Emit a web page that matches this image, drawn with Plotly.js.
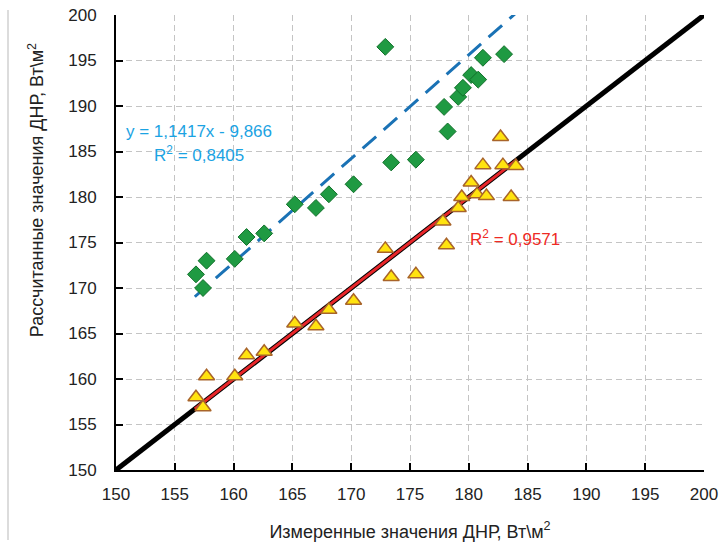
<!DOCTYPE html>
<html>
<head>
<meta charset="utf-8">
<script src="https://cdn.plot.ly/plotly-3.0.1.min.js"></script>
<style>html,body{margin:0;padding:0;background:#fff;}#chart{width:719px;height:547px;}</style>
</head>
<body>
<div id="chart"></div>
<script>
// Green diamonds (calculated, series 1)
const greenX = [156.8, 157.4, 157.7, 160.1, 161.1, 162.6, 165.2, 167.0, 168.1, 170.2, 172.9, 173.4, 175.5, 177.9, 178.2, 179.1, 179.5, 180.2, 180.8, 181.2, 183.0];
const greenY = [171.5, 170.0, 173.0, 173.2, 175.6, 176.0, 179.2, 178.8, 180.3, 181.4, 196.5, 183.8, 184.1, 189.9, 187.2, 191.0, 192.0, 193.4, 192.9, 195.3, 195.7];
// Yellow triangles (calculated, series 2)
const yellowX = [156.8, 157.4, 157.7, 160.1, 161.1, 162.6, 165.2, 167.0, 168.1, 170.2, 172.9, 173.4, 175.5, 177.8, 178.1, 179.1, 179.4, 180.2, 180.7, 181.2, 181.5, 182.7, 182.9, 183.6, 184.0];
const yellowY = [158.0, 156.9, 160.3, 160.3, 162.6, 163.0, 166.1, 165.8, 167.6, 168.6, 174.3, 171.2, 171.5, 177.3, 174.7, 178.8, 180.0, 181.6, 180.3, 183.5, 180.1, 186.6, 183.5, 180.0, 183.4];
// 1:1 reference line
const refX = [150, 200];
const refY = [150, 200];
// Trend line coefficients (blue from the equation, red) and extent
const blueSlope = 1.1417, blueIntercept = -9.866;
const redSlope = 1.0, redIntercept = 0.0;
const fitX = [156.7, 184.1];
const ticks = [150, 155, 160, 165, 170, 175, 180, 185, 190, 195, 200];

const redY = fitX.map(v => redSlope * v + redIntercept);
const blueY = fitX.map(v => blueSlope * v + blueIntercept);

const FONT = 'Liberation Sans, Arial, sans-serif';

const traces = [
  {x: refX, y: refY, mode: 'lines', line: {color: '#000000', width: 5}, hoverinfo: 'skip'},
  {x: fitX, y: redY, mode: 'lines', line: {color: '#e8262a', width: 3}, hoverinfo: 'skip'},
  {x: fitX, y: blueY, mode: 'lines', line: {color: '#1a72b5', width: 3, dash: '18px,10px'}, hoverinfo: 'skip'},
  {x: greenX, y: greenY, mode: 'markers', marker: {symbol: 'diamond', size: 13, color: '#1f9a42', line: {color: '#11702a', width: 1}}},
  {x: yellowX, y: yellowY, mode: 'markers', marker: {symbol: 'triangle-up', size: 14, color: '#ffe30f', line: {color: '#a8642a', width: 1.5}}}
];

const axisCommon = {
  range: [150, 200],
  tickvals: ticks,
  ticktext: ticks.map(String),
  showgrid: true,
  gridcolor: '#c4c4c4',
  gridwidth: 1,
  griddash: '6px,4px',
  zeroline: false,
  showline: true,
  linecolor: '#000000',
  linewidth: 2,
  ticks: 'inside',
  ticklen: 7,
  tickwidth: 2,
  tickcolor: '#000000',
  tickfont: {family: FONT, size: 17, color: '#222222'},
  fixedrange: true
};

const layout = {
  width: 719, height: 547,
  margin: {l: 116, r: 15, t: 15, b: 77},
  paper_bgcolor: '#ffffff',
  plot_bgcolor: '#ffffff',
  showlegend: false,
  xaxis: Object.assign({}, axisCommon, {
    ticklabelstandoff: 8,
    title: {text: 'Измеренные значения ДНР, Вт\\м<sup>2</sup>', font: {family: FONT, size: 18, color: '#222222'}, standoff: 22}
  }),
  yaxis: Object.assign({}, axisCommon, {
    ticklabelstandoff: 14
  }),
  annotations: [
    {xref: 'paper', yref: 'paper', x: -0.136, y: 0.615, xanchor: 'center', yanchor: 'middle', textangle: -90, showarrow: false,
     text: 'Рассчитанные значения ДНР, Вт\\м<sup>2</sup>', font: {family: FONT, size: 18, color: '#222222'}},
    {xref: 'paper', yref: 'paper', x: (124 - 116) / 588, y: (470 - 131) / 455, xanchor: 'left', yanchor: 'middle', showarrow: false,
     text: 'y = 1,1417x - 9,866', font: {family: FONT, size: 17, color: '#1ba3e3'}},
    {xref: 'paper', yref: 'paper', x: (152 - 116) / 588, y: (470 - 154) / 455, xanchor: 'left', yanchor: 'middle', showarrow: false,
     text: 'R<sup>2</sup> = 0,8405', font: {family: FONT, size: 17, color: '#1ba3e3'}},
    {xref: 'paper', yref: 'paper', x: (468 - 116) / 588, y: (470 - 238) / 455, xanchor: 'left', yanchor: 'middle', showarrow: false,
     text: 'R<sup>2</sup> = 0,9571', font: {family: FONT, size: 17, color: '#ee2a24'}}
  ],
  shapes: [
    {type: 'line', xref: 'paper', yref: 'paper', x0: (8 - 116) / 588, x1: (8 - 116) / 588, y0: (470 - 10) / 455, y1: (470 - 540) / 455,
     line: {color: '#d0d0d0', width: 1.5}}
  ]
};

Plotly.newPlot('chart', traces, layout, {displayModeBar: false, staticPlot: true});
</script>
</body>
</html>
